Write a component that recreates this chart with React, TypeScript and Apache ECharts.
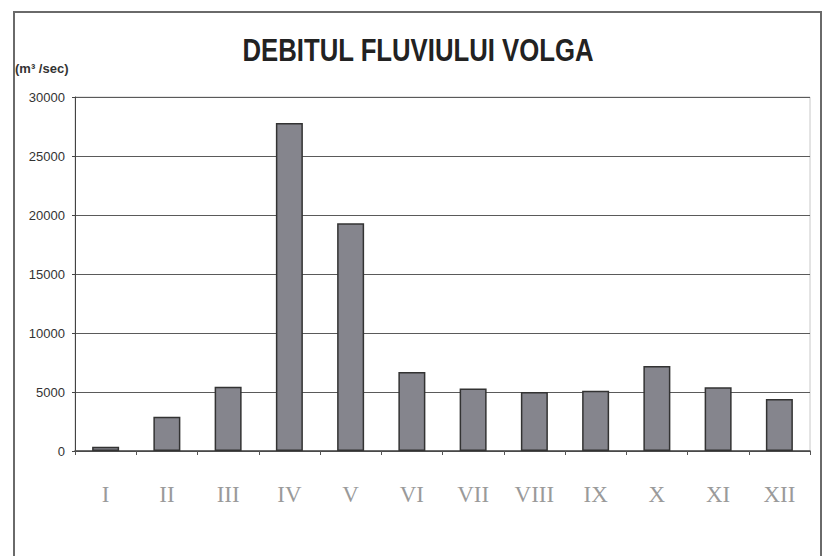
import React, { useEffect, useRef } from "react";
import * as echarts from "echarts";

const months = ["I", "II", "III", "IV", "V", "VI", "VII", "VIII", "IX", "X", "XI", "XII"];
const debit = [350, 2900, 5450, 27800, 19300, 6700, 5300, 5000, 5100, 7200, 5400, 4400];
const titleText = "DEBITUL FLUVIULUI VOLGA";
const unitText = "(m³ /sec)";

export default function App() {
  const ref = useRef<HTMLDivElement>(null);
  useEffect(() => {
    if (!ref.current) return;
    const chart = echarts.init(ref.current, null, { renderer: "svg" });
    chart.setOption({
      animation: false,
      backgroundColor: "#ffffff",
      grid: {
        left: 75,
        right: 17,
        top: 97,
        bottom: 105,
        show: true,
        borderColor: "#c8c8c8",
        borderWidth: 1,
        backgroundColor: "transparent",
      },
      graphic: [
        {
          type: "rect",
          shape: { x: 14, y: 12, width: 807, height: 560 },
          style: { fill: "none", stroke: "#6a6a6a", lineWidth: 2 },
          silent: true,
        },
        {
          type: "text",
          x: 418,
          y: 50,
          scaleX: 0.83,
          style: {
            text: titleText,
            fontSize: 31,
            fontWeight: "bold",
            fontFamily: "'Liberation Sans', Arial, sans-serif",
            fill: "#222222",
            align: "center",
            verticalAlign: "middle",
            textAlign: "center",
            textVerticalAlign: "middle",
          },
        },
        {
          type: "text",
          x: 15,
          y: 68,
          style: {
            text: unitText,
            fontSize: 13,
            fontWeight: "bold",
            fontFamily: "'Liberation Sans', Arial, sans-serif",
            fill: "#333333",
            align: "left",
            verticalAlign: "middle",
            textAlign: "left",
            textVerticalAlign: "middle",
          },
        },
      ],
      xAxis: {
        type: "category",
        data: months,
        axisLine: { show: true, lineStyle: { color: "#444", width: 1.5 } },
        axisTick: { show: true, length: 4, alignWithLabel: false, lineStyle: { color: "#555" } },
        axisLabel: {
          margin: 32,
          fontSize: 23,
          fontFamily: "'Liberation Serif', 'Times New Roman', serif",
          color: "#9a9a9a",
        },
        splitLine: { show: false },
      },
      yAxis: {
        type: "value",
        min: 0,
        max: 30000,
        interval: 5000,
        axisLine: { show: true, lineStyle: { color: "#444", width: 1 } },
        axisTick: { show: true, length: 3, lineStyle: { color: "#444" } },
        axisLabel: {
          margin: 10,
          fontSize: 13,
          fontFamily: "'Liberation Sans', Arial, sans-serif",
          color: "#333333",
          formatter: (v: number) => String(v),
        },
        splitLine: { show: true, lineStyle: { color: "#5a5a5a", width: 1 } },
      },
      series: [
        {
          type: "bar",
          data: debit,
          barWidth: 27,
          itemStyle: { color: "#85858d", borderColor: "#333333", borderWidth: 1.5 },
        },
      ],
    });
    return () => chart.dispose();
  }, []);
  return (
    <div
      ref={ref}
      style={{ position: "absolute", left: 0, top: 0, width: 827, height: 556, background: "#fff" }}
    />
  );
}
